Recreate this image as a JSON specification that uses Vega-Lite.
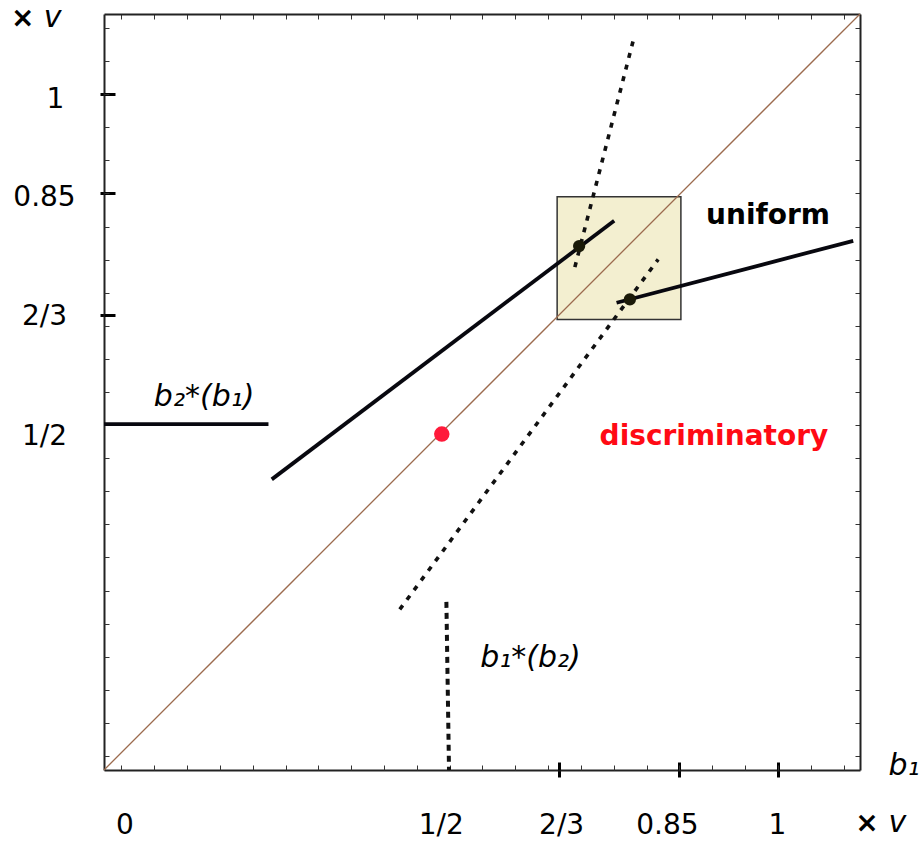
{
  "$schema": "https://vega.github.io/schema/vega-lite/v6.json",
  "width": 756,
  "height": 756,
  "autosize": "none",
  "padding": {"left": 104, "top": 14, "right": 63, "bottom": 73},
  "background": "white",
  "config": {"view": {"stroke": null}, "axis": {"grid": false, "title": null}},
  "datasets": {
    "box": [{"x0": 0.6637, "x1": 0.8522, "y0": 0.6597, "y1": 0.8449}],
    "diag": [{"x": -0.0265, "y": -0.021}, {"x": 1.125, "y": 1.121}],
    "solid": [
      {"s": "b2 flat", "o": 1, "x": -0.0265, "y": 0.5015},
      {"s": "b2 flat", "o": 2, "x": 0.224, "y": 0.5015},
      {"s": "b2 upper", "o": 1, "x": 0.229, "y": 0.418},
      {"s": "b2 upper", "o": 2, "x": 0.7506, "y": 0.8086},
      {"s": "b2 lower", "o": 1, "x": 0.7542, "y": 0.6848},
      {"s": "b2 lower", "o": 2, "x": 1.1147, "y": 0.7784}
    ],
    "dotted": [
      {"s": "b1 steep", "o": 1, "x": 0.6907, "y": 0.7387},
      {"s": "b1 steep", "o": 2, "x": 0.7795, "y": 1.0805},
      {"s": "b1 mid", "o": 1, "x": 0.424, "y": 0.2216},
      {"s": "b1 mid", "o": 2, "x": 0.8176, "y": 0.7503}
    ],
    "vdot": [{"x": 0.495, "y": 0.233}, {"x": 0.499, "y": -0.021}],
    "eq": [{"x": 0.6972, "y": 0.7704}, {"x": 0.7745, "y": 0.6899}],
    "red": [{"x": 0.488, "y": 0.4864}],
    "italic": [
      {"t": "b₂*(b₁)", "x": 0.126, "y": 0.5287},
      {"t": "b₁*(b₂)", "x": 0.623, "y": 0.135},
      {"t": "b₁", "x": 1.192, "y": -0.0287},
      {"t": "v", "x": -0.1047, "y": 1.101},
      {"t": "v", "x": 1.182, "y": -0.1148}
    ],
    "bold": [
      {"t": "uniform", "x": 0.9848, "y": 0.8036},
      {"t": "×", "x": -0.1504, "y": 1.101},
      {"t": "×", "x": 1.1356, "y": -0.1148}
    ],
    "redtext": [{"t": "discriminatory", "x": 0.9025, "y": 0.4698}]
  },
  "resolve": {"axis": {"x": "independent", "y": "independent"}},
  "layer": [
    {
      "data": {"name": "box"},
      "mark": {"type": "rect", "fill": "#f3efd0", "stroke": "#333333", "strokeWidth": 1.5},
      "encoding": {
        "x": {
          "field": "x0", "type": "quantitative",
          "scale": {"domain": [-0.0265, 1.125], "nice": false, "zero": false},
          "axis": {
            "orient": "bottom", "values": [0, 0.5, 0.6667, 0.85, 1],
            "labelExpr": "datum.value == 0 ? '0' : datum.value == 0.5 ? '1/2' : datum.value < 0.7 ? '2/3' : datum.value < 0.9 ? '0.85' : '1'",
            "domain": true, "domainColor": "#222222", "domainWidth": 2,
            "tickSize": 7, "tickWidth": 3, "tickColor": "#000000",
            "tickOpacity": {"condition": {"test": "datum.value > 0.6", "value": 1}, "value": 0},
            "labelPadding": 34, "labelFontSize": 28, "labelFont": "DejaVu Sans", "labelColor": "#000000",
            "labelFlush": false, "labelOverlap": false,
            "labelOffset": {"expr": "datum.value == 0 ? 3 : datum.value == 0.5 ? -9 : datum.value < 0.7 ? 2 : datum.value < 0.9 ? -12.5 : -1"}
          }
        },
        "x2": {"field": "x1"},
        "y": {
          "field": "y0", "type": "quantitative",
          "scale": {"domain": [-0.021, 1.121], "nice": false, "zero": false},
          "axis": {
            "orient": "left", "values": [0.5, 0.6667, 0.85, 1],
            "labelExpr": "datum.value == 0.5 ? '1/2' : datum.value < 0.7 ? '2/3' : datum.value < 0.9 ? '0.85' : '1'",
            "domain": true, "domainColor": "#222222", "domainWidth": 2,
            "tickSize": 4, "tickWidth": 3, "tickColor": "#000000",
            "tickOpacity": {"condition": {"test": "datum.value > 0.6", "value": 1}, "value": 0},
            "labelPadding": {"expr": "datum.value == 1 ? 45 : 56"},
            "labelAlign": "center", "labelBaseline": "middle",
            "labelFontSize": 28, "labelFont": "DejaVu Sans", "labelColor": "#000000",
            "labelFlush": false, "labelOverlap": false,
            "labelOffset": {"expr": "datum.value == 1 ? 5 : datum.value > 0.8 ? 4 : datum.value > 0.6 ? 1.5 : 11.5"}
          }
        },
        "y2": {"field": "y1"}
      }
    },
    {
      "data": {"name": "diag"},
      "mark": {"type": "line", "color": "#9c6b4e", "strokeWidth": 1.3},
      "encoding": {
        "x": {"field": "x", "type": "quantitative",
          "axis": {"orient": "bottom", "values": [0.6667, 0.85, 1], "labels": false, "domain": false, "tickSize": -8, "tickWidth": 3, "tickColor": "#000000"}},
        "y": {"field": "y", "type": "quantitative",
          "axis": {"orient": "left", "values": [0.6667, 0.85, 1], "labels": false, "domain": false, "tickSize": -11, "tickWidth": 3, "tickColor": "#000000"}}
      }
    },
    {
      "data": {"name": "solid"},
      "mark": {"type": "line", "color": "#08080f", "strokeWidth": 3.8},
      "encoding": {
        "x": {"field": "x", "type": "quantitative",
          "axis": {"orient": "bottom", "values": [0, 0.05, 0.1, 0.15, 0.2, 0.25, 0.3, 0.35, 0.4, 0.45, 0.5, 0.55, 0.6, 0.65, 0.7, 0.75, 0.8, 0.85, 0.9, 0.95, 1, 1.05, 1.1], "labels": false, "domain": false, "tickSize": -5, "tickWidth": 1, "tickColor": "#333333"}},
        "y": {"field": "y", "type": "quantitative",
          "axis": {"orient": "left", "values": [0, 0.05, 0.1, 0.15, 0.2, 0.25, 0.3, 0.35, 0.4, 0.45, 0.5, 0.55, 0.6, 0.65, 0.7, 0.75, 0.8, 0.85, 0.9, 0.95, 1, 1.05, 1.1], "labels": false, "domain": false, "tickSize": -5, "tickWidth": 1, "tickColor": "#333333"}},
        "detail": {"field": "s"},
        "order": {"field": "o"}
      }
    },
    {
      "data": {"name": "dotted"},
      "mark": {"type": "line", "color": "#111111", "strokeWidth": 3.6, "strokeDash": [5, 7]},
      "encoding": {
        "x": {"field": "x", "type": "quantitative",
          "axis": {"orient": "top", "values": [0, 0.05, 0.1, 0.15, 0.2, 0.25, 0.3, 0.35, 0.4, 0.45, 0.5, 0.55, 0.6, 0.65, 0.7, 0.75, 0.8, 0.85, 0.9, 0.95, 1, 1.05, 1.1], "labels": false, "domain": true, "domainColor": "#222222", "domainWidth": 2, "tickSize": -5, "tickWidth": 1, "tickColor": "#333333"}},
        "y": {"field": "y", "type": "quantitative",
          "axis": {"orient": "right", "values": [0, 0.05, 0.1, 0.15, 0.2, 0.25, 0.3, 0.35, 0.4, 0.45, 0.5, 0.55, 0.6, 0.65, 0.7, 0.75, 0.8, 0.85, 0.9, 0.95, 1, 1.05, 1.1], "labels": false, "domain": true, "domainColor": "#222222", "domainWidth": 2, "tickSize": -5, "tickWidth": 1, "tickColor": "#333333"}},
        "detail": {"field": "s"},
        "order": {"field": "o"}
      }
    },
    {
      "data": {"name": "vdot"},
      "mark": {"type": "line", "color": "#111111", "strokeWidth": 4, "strokeDash": [6, 5]},
      "encoding": {
        "x": {"field": "x", "type": "quantitative", "axis": null},
        "y": {"field": "y", "type": "quantitative", "axis": null}
      }
    },
    {
      "data": {"name": "eq"},
      "mark": {"type": "point", "filled": true, "color": "#1a1a08", "opacity": 1, "size": 150},
      "encoding": {
        "x": {"field": "x", "type": "quantitative", "axis": null},
        "y": {"field": "y", "type": "quantitative", "axis": null}
      }
    },
    {
      "data": {"name": "red"},
      "mark": {"type": "point", "filled": true, "color": "#ff1a3a", "opacity": 1, "size": 240},
      "encoding": {
        "x": {"field": "x", "type": "quantitative", "axis": null},
        "y": {"field": "y", "type": "quantitative", "axis": null}
      }
    },
    {
      "data": {"name": "italic"},
      "mark": {"type": "text", "font": "DejaVu Sans", "fontStyle": "italic", "fontSize": 30, "color": "#000000", "align": "center", "baseline": "alphabetic"},
      "encoding": {
        "x": {"field": "x", "type": "quantitative", "axis": null},
        "y": {"field": "y", "type": "quantitative", "axis": null},
        "text": {"field": "t"}
      }
    },
    {
      "data": {"name": "bold"},
      "mark": {"type": "text", "font": "DejaVu Sans", "fontWeight": "bold", "fontSize": 28, "color": "#000000", "align": "center", "baseline": "alphabetic"},
      "encoding": {
        "x": {"field": "x", "type": "quantitative", "axis": null},
        "y": {"field": "y", "type": "quantitative", "axis": null},
        "text": {"field": "t"}
      }
    },
    {
      "data": {"name": "redtext"},
      "mark": {"type": "text", "font": "DejaVu Sans", "fontWeight": "bold", "fontSize": 28, "color": "#ff0a14", "align": "center", "baseline": "alphabetic"},
      "encoding": {
        "x": {"field": "x", "type": "quantitative", "axis": null},
        "y": {"field": "y", "type": "quantitative", "axis": null},
        "text": {"field": "t"}
      }
    }
  ]
}
